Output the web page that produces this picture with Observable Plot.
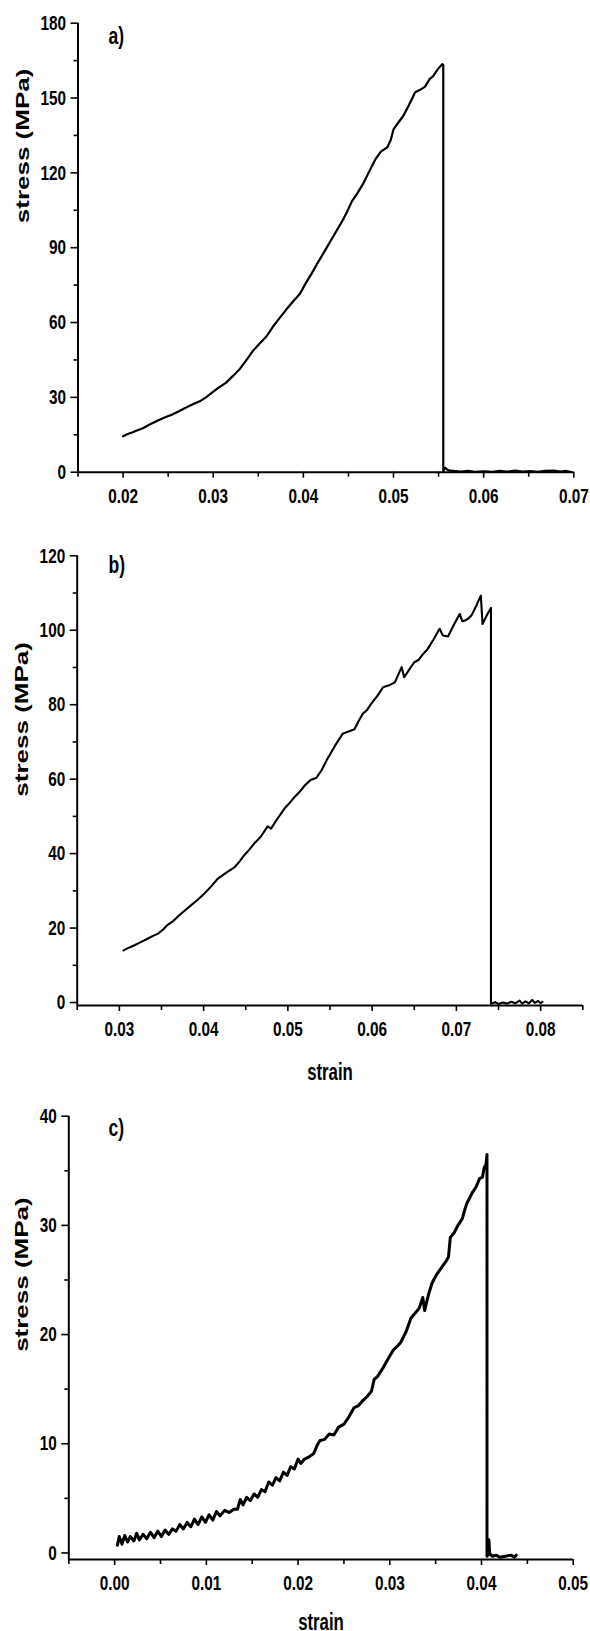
<!DOCTYPE html>
<html><head><meta charset="utf-8">
<script src="https://cdn.jsdelivr.net/npm/d3@7"></script>
<script src="https://cdn.jsdelivr.net/npm/@observablehq/plot@0.6"></script>
<style>
body{margin:0;background:#fff;width:590px;}
#chart svg{display:block;font-family:"Liberation Sans",Arial,sans-serif;}
</style></head><body><div id="chart"></div>
<script>
// ---------- Panel a ----------
const aStrain = [0.0200,0.0205,0.0210,0.0216,0.0222,0.0230,0.0238,0.0246,0.0254,0.0262,0.0270,0.0278,0.0285,0.0292,0.0299,0.0306,0.0314,0.0322,0.0330,0.0338,0.0344,0.0351,0.0359,0.0366,0.0374,0.0381,0.0389,0.0396,0.0403,0.0409,0.0415,0.0422,0.0430,0.0436,0.0443,0.0448,0.0454,0.0460,0.0467,0.0473,0.0480,0.0486,0.0493,0.0497,0.0500,0.0505,0.0511,0.0517,0.0524,0.0530,0.0535,0.0540,0.0544,0.0549,0.0554,0.05552,0.05552,0.0557,0.0559,0.0562,0.0568,0.0575,0.0583,0.0590,0.0600,0.0610,0.0618,0.0625,0.0635,0.0643,0.0652,0.0660,0.0668,0.0678,0.0685,0.0692,0.0697];
const aStress = [14.4,15.3,15.9,16.8,17.6,19.2,20.6,21.9,23.0,24.4,25.9,27.3,28.4,30.0,32.0,33.9,35.8,38.6,41.6,45.5,48.6,51.4,54.4,58.2,62.0,65.2,68.6,71.4,76.0,79.5,83.4,87.6,92.6,96.3,100.6,104.0,108.7,111.9,116.1,120.5,125.5,128.5,130.2,133.3,137.4,140.0,142.9,147.1,152.3,153.4,154.6,157.6,158.8,161.5,163.6,163.2,0.4,1.8,1.2,0.6,0.4,0.2,0.5,0.1,0.3,0.1,0.5,0.2,0.6,0.2,0.4,0.1,0.5,0.6,0.2,0.5,0.1];
const aXTicks = [0.02,0.03,0.04,0.05,0.06,0.07];
const aXMinor = [0.015,0.025,0.035,0.045,0.055,0.065];
const aYTicks = [0,30,60,90,120,150,180];
const aYMinor = [15,45,75,105,135,165];

// ---------- Panel b ----------
const bStrain = [0.0305,0.0312,0.0318,0.0326,0.0334,0.0340,0.0346,0.0352,0.0357,0.0363,0.0369,0.0377,0.0385,0.0393,0.0401,0.0409,0.0417,0.0427,0.0437,0.0443,0.0448,0.0454,0.0460,0.0468,0.0476,0.0480,0.0488,0.0496,0.0502,0.0508,0.0514,0.0520,0.0527,0.0534,0.0540,0.0547,0.0556,0.0565,0.0572,0.0579,0.0584,0.0589,0.0594,0.0599,0.0606,0.0613,0.0620,0.0627,0.0635,0.0638,0.0644,0.0650,0.0655,0.0660,0.0666,0.0673,0.0680,0.0684,0.0690,0.0697,0.0704,0.0707,0.0710,0.0714,0.0718,0.0724,0.0729,0.0731,0.0736,0.0741,0.0741,0.0746,0.0750,0.0755,0.0760,0.0765,0.0770,0.0775,0.0778,0.0782,0.0786,0.0790,0.0793,0.0797,0.0800,0.0802];
const bStress = [14.0,14.8,15.4,16.3,17.2,17.9,18.5,19.6,20.8,21.7,23.0,24.6,26.1,27.6,29.3,31.2,33.3,34.9,36.4,38.0,39.5,41.0,42.7,44.6,47.3,46.7,49.5,52.1,53.6,55.2,56.6,58.3,59.8,60.4,62.4,65.5,69.0,72.2,72.8,73.4,75.6,77.6,78.6,80.3,82.3,84.7,85.2,86.0,90.1,87.4,89.4,91.4,92.0,93.5,95.0,97.6,100.4,98.6,98.3,101.5,104.4,102.4,102.6,103.1,104.0,106.8,109.3,101.7,104.0,106.0,-0.3,0.1,-0.4,0.0,-0.3,0.2,-0.2,0.5,-0.3,0.3,-0.2,0.7,-0.1,0.4,-0.2,0.2];
const bXTicks = [0.03,0.04,0.05,0.06,0.07,0.08];
const bXMinor = [0.025,0.035,0.045,0.055,0.065,0.075,0.085];
const bYTicks = [0,20,40,60,80,100,120];
const bYMinor = [10,30,50,70,90,110];

// ---------- Panel c ----------
const cStrain = [0.0003,0.0005,0.0008,0.0011,0.0014,0.0017,0.0021,0.0024,0.0027,0.0031,0.0035,0.0039,0.0043,0.0047,0.0051,0.0055,0.0059,0.0063,0.0067,0.0071,0.0075,0.0079,0.0083,0.0087,0.0091,0.0095,0.0099,0.0103,0.0107,0.0111,0.0115,0.0120,0.0125,0.0130,0.0134,0.0137,0.0140,0.0144,0.0148,0.0152,0.0156,0.0160,0.0164,0.0168,0.0172,0.0176,0.0180,0.0184,0.0188,0.0192,0.0196,0.0200,0.0203,0.0207,0.0212,0.0217,0.0221,0.0224,0.0229,0.0234,0.0239,0.0244,0.0250,0.0255,0.0261,0.0266,0.0270,0.0275,0.0280,0.0283,0.0287,0.0293,0.0299,0.0304,0.0309,0.0312,0.0318,0.0323,0.0328,0.0332,0.0336,0.0338,0.0342,0.0346,0.0351,0.0357,0.0362,0.0364,0.0366,0.0370,0.0375,0.0379,0.0382,0.0384,0.0390,0.0394,0.0398,0.0401,0.0403,0.0405,0.0406,0.0406,0.0407,0.0408,0.0409,0.0412,0.0416,0.0420,0.0426,0.0432,0.0436,0.0438];
const cStress = [0.7,1.5,0.8,1.6,1.0,1.5,1.1,1.8,1.2,1.7,1.3,1.9,1.4,2.0,1.5,2.1,1.7,2.2,2.0,2.6,2.2,2.8,2.4,3.1,2.6,3.3,2.8,3.5,3.0,3.8,3.4,3.9,3.7,4.0,4.0,4.9,4.4,5.1,4.8,5.4,5.1,5.8,5.6,6.5,6.2,6.9,6.6,7.4,7.1,7.9,7.7,8.6,8.2,8.6,8.8,9.1,9.9,10.3,10.4,10.9,10.8,11.5,11.8,12.4,13.3,13.5,13.9,14.3,14.8,15.9,16.2,17.0,17.9,18.6,19.0,19.3,20.3,21.5,22.0,22.4,23.4,22.2,23.6,24.7,25.5,26.2,26.8,27.1,28.9,29.3,30.1,30.6,31.5,32.0,33.0,33.5,34.3,34.4,35.3,35.6,36.5,-0.3,-0.2,1.2,-0.1,-0.3,-0.2,-0.4,-0.3,-0.2,-0.4,-0.2];
const cXTicks = [0.00,0.01,0.02,0.03,0.04,0.05];
const cXMinor = [-0.005,0.005,0.015,0.025,0.035,0.045];
const cYTicks = [0,10,20,30,40];
const cYMinor = [5,15,25,35];

const yTitle = "stress (MPa)";
const xTitle = "strain";

function panel(o) {
  const data = o.strain.map((s, i) => ({strain: s, stress: o.stress[i]}));
  const [x0, x1] = o.xDomain, [y0, y1] = o.yDomain;
  const fmt2 = d3.format(".2f");
  const marks = [
    Plot.line(data, {x: "strain", y: "stress", stroke: "#000", strokeWidth: o.lw, strokeLinejoin: "round"}),
    Plot.ruleX([x0], {y1: y0, y2: y1, stroke: "#000", strokeWidth: 2}),
    Plot.ruleY([y0], {x1: x0, x2: x1, stroke: "#000", strokeWidth: 2}),
    Plot.axisX(o.xTicks, {tickSize: 6, tickPadding: 10, tickFormat: fmt2, fontSize: 21, fontWeight: "bold", color: "#000", strokeWidth: 1.6, label: null}),
    Plot.axisX(o.xMinor, {tickSize: 5, tickFormat: () => "", color: "#000", strokeWidth: 1.6, label: null}),
    Plot.axisY(o.yTicks, {tickSize: 7, tickPadding: 5, tickFormat: d3.format("d"), fontSize: 21, fontWeight: "bold", color: "#000", strokeWidth: 1.6, label: null}),
    Plot.axisY(o.yMinor, {tickSize: 4, tickFormat: () => "", color: "#000", strokeWidth: 1.6, label: null}),
    Plot.text([yTitle], {text: d => d, frameAnchor: "left", dx: o.yLabDx, dy: o.yLabDy, rotate: -90, fontSize: 26, fontWeight: "bold", fill: "#000", lineAnchor: "middle"}),
    Plot.text([o.letter], {text: d => d, frameAnchor: "top-left", dx: o.letDx, dy: o.letDy, textAnchor: "start", lineAnchor: "middle", fontSize: 24, fontWeight: "bold", fill: "#000", ariaLabel: "panel-label"})
  ];
  if (o.xLab) marks.push(Plot.text([xTitle], {text: d => d, frameAnchor: "bottom", dy: o.xLabDy, lineAnchor: "middle", fontSize: 23, fontWeight: "bold", fill: "#000"}));
  const svg = Plot.plot({
    width: 590, height: o.height,
    marginLeft: o.ml, marginRight: o.mr, marginTop: o.mt, marginBottom: o.mb,
    style: {background: "#fff", color: "#000", fontFamily: "'Liberation Sans', Arial, sans-serif", overflow: "visible"},
    x: {domain: o.xDomain, axis: null},
    y: {domain: o.yDomain, axis: null},
    marks
  });
  svg.querySelectorAll("text").forEach(t => {
    if (t.closest('[aria-label="panel-label"]')) return;
    const tr = t.getAttribute("transform") || "";
    t.setAttribute("transform", tr + (tr.includes("rotate") ? " scale(1,0.68)" : " scale(0.73,1)"));
  });
  return svg;
}

const root = document.getElementById("chart");
root.append(panel({strain: aStrain, stress: aStress, xDomain: [0.015, 0.07], yDomain: [0, 180],
  xTicks: aXTicks, xMinor: aXMinor, yTicks: aYTicks, yMinor: aYMinor, letter: "a)",
  height: 500, ml: 77.5, mr: 16.7, mt: 22.7, mb: 28.3, lw: 2.2,
  yLabDx: -55, yLabDy: -24.5, letDx: 30.5, letDy: 13.3, xLab: false}));
root.append(panel({strain: bStrain, stress: bStress, xDomain: [0.025, 0.085], yDomain: [-0.8, 120],
  xTicks: bXTicks, xMinor: bXMinor, yTicks: bYTicks, yMinor: bYMinor, letter: "b)",
  height: 590, ml: 76.7, mr: 7.7, mt: 55.3, mb: 85, lw: 2.1,
  yLabDx: -54.5, yLabDy: 16, letDx: 31.3, letDy: 9.7, xLab: true, xLabDy: 67}));
root.append(panel({strain: cStrain, stress: cStress, xDomain: [-0.005, 0.05], yDomain: [-0.6, 40],
  xTicks: cXTicks, xMinor: cXMinor, yTicks: cYTicks, yMinor: cYMinor, letter: "c)",
  height: 541, ml: 68.3, mr: 17.3, mt: 25.7, mb: 72, lw: 3,
  yLabDx: -46, yLabDy: 14, letDx: 39.7, letDy: 12.3, xLab: true, xLabDy: 62.7}));
</script>
</body></html>
